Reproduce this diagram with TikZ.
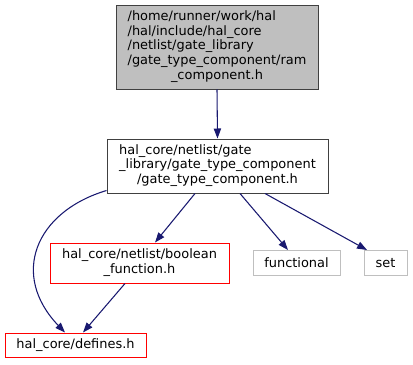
\documentclass[tikz,border=0pt]{standalone}
\usepackage{fontspec}
\setmainfont{DejaVu Sans}
\usetikzlibrary{arrows.meta}
\definecolor{edgeblue}{HTML}{191970}
\definecolor{boxgray}{HTML}{BFBFBF}
\definecolor{dkgray}{HTML}{404040}
\definecolor{ltgray}{HTML}{BFBFBF}
% label lines are flush left, the final line is centred
\newcommand{\lbl}[1]{\begin{tabular}{@{}l@{}}#1\end{tabular}}
\newcommand{\ctrline}[1]{\multicolumn{1}{@{}c@{}}{#1}}
\tikzset{
  file/.style={draw, line width=0.75pt, inner sep=0pt, align=center, font=\fontsize{9.7}{11}\selectfont},
  current/.style={file, draw=dkgray, fill=boxgray},
  header/.style={file, draw=dkgray},
  incomplete/.style={file, draw=red},
  external/.style={file, draw=ltgray},
  dep/.style={draw=edgeblue, line width=0.8pt, -{Triangle[length=7.5pt,width=5.5pt]}}
}
\begin{document}
\begin{tikzpicture}[x=0.75pt,y=-0.75pt]
  \useasboundingbox (0,0) rectangle (413,364);
  \node[current, minimum width=202*0.75pt, minimum height=84*0.75pt] (ram) at (217,47)
    {\lbl{/home/runner/work/hal\\/hal/include/hal\_core\\/netlist/gate\_library\\/gate\_type\_component/ram\\\ctrline{\_component.h}}};
  \node[header, minimum width=221*0.75pt, minimum height=54*0.75pt] (gtc) at (217.5,166)
    {\lbl{hal\_core/netlist/gate\\\_library/gate\_type\_component\\\ctrline{/gate\_type\_component.h}}};
  \node[incomplete, minimum width=179*0.75pt, minimum height=40*0.75pt] (bf) at (139.5,263)
    {\lbl{hal\_core/netlist/boolean\\\ctrline{\_function.h}}};
  \node[external, minimum width=87*0.75pt, minimum height=25*0.75pt] (fn) at (296.5,263) {functional};
  \node[external, minimum width=43*0.75pt, minimum height=25*0.75pt] (st) at (385.5,263) {set};
  \node[incomplete, minimum width=141*0.75pt, minimum height=24*0.75pt] (def) at (75.5,345) {hal\_core/defines.h};

  \draw[dep] (ram.south) -- (gtc.north);
  \draw[dep] ([yshift=2.25pt]gtc.south west) .. controls (35,212) and (10,275) .. ([xshift=-10.5*0.75pt]def.north);
  \draw[dep] ([xshift=-22.5*0.75pt]gtc.south) -- ([xshift=15.5*0.75pt]bf.north);
  \draw[dep] ([xshift=22.5*0.75pt]gtc.south) -- ([xshift=-8.5*0.75pt]fn.north);
  \draw[dep] ([xshift=47.5*0.75pt]gtc.south) -- ([xshift=-18.5*0.75pt]st.north);
  \draw[dep] ([xshift=-14.5*0.75pt]bf.south) -- ([xshift=7.5*0.75pt]def.north);
\end{tikzpicture}
\end{document}
